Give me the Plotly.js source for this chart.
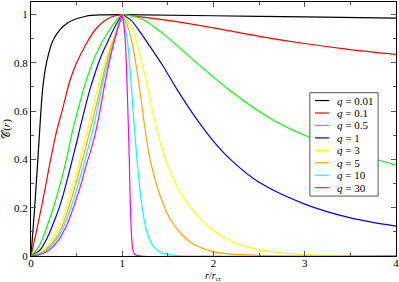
<!DOCTYPE html>
<html><head><meta charset="utf-8">
<script src="https://cdn.plot.ly/plotly-3.0.1.min.js"></script>
<style>html,body{margin:0;padding:0;background:#fff}#chart{width:399px;height:282px}</style>
</head><body><div id="chart"></div>
<script>
// q values and legend labels
const qLabels = ["0.01", "0.1", "0.5", "1", "3", "5", "10", "30"];
const colors = ["#000000", "#ff0000", "#00ff00", "#0000ff", "#ffff00", "#ffa500", "#00ffff", "#ff00ff"];

// q = 0.01
const rBlack = [0, 0.02, 0.04, 0.07, 0.1, 0.13, 0.17, 0.25, 0.4, 0.6, 0.8, 1, 2, 3, 4];
const cBlack = [0, 0.1, 0.2, 0.37, 0.55, 0.7, 0.8, 0.9, 0.965, 0.993, 0.999, 1, 0.995, 0.99, 0.985];
// q = 0.1
const rRed = [0, 0.05, 0.1, 0.15, 0.2, 0.27, 0.34, 0.43, 0.5, 0.6, 0.7, 0.8, 0.9, 1, 1.5, 2, 2.5, 3, 3.5, 4];
const cRed = [0, 0.085, 0.175, 0.27, 0.37, 0.5, 0.6, 0.73, 0.8, 0.875, 0.935, 0.972, 0.993, 1, 0.976, 0.945, 0.91, 0.88, 0.855, 0.835];
// q = 0.5
const rGreen = [0, 0.05, 0.1, 0.15, 0.2, 0.25, 0.3, 0.35, 0.4, 0.45, 0.5, 0.55, 0.6, 0.65, 0.7, 0.75, 0.8, 0.85, 0.9, 0.95, 1, 1.2, 1.45, 1.8, 2.2, 2.6, 3, 3.5, 4];
const cGreen = [0, 0.02, 0.05, 0.095, 0.15, 0.205, 0.27, 0.34, 0.42, 0.51, 0.585, 0.655, 0.72, 0.775, 0.825, 0.865, 0.9, 0.93, 0.958, 0.982, 1, 0.985, 0.92, 0.805, 0.68, 0.575, 0.5, 0.432, 0.377];
// q = 1
const rBlue = [0, 0.1, 0.15, 0.2, 0.25, 0.3, 0.35, 0.4, 0.45, 0.5, 0.55, 0.6, 0.65, 0.7, 0.75, 0.8, 0.85, 0.9, 0.95, 1, 1.1, 1.2, 1.3, 1.45, 1.6, 1.8, 2, 2.2, 2.5, 3, 3.5, 4];
const cBlue = [0, 0.025, 0.055, 0.093, 0.14, 0.19, 0.25, 0.32, 0.395, 0.47, 0.55, 0.625, 0.695, 0.755, 0.81, 0.855, 0.895, 0.935, 0.97, 1, 0.975, 0.925, 0.87, 0.785, 0.69, 0.575, 0.475, 0.395, 0.305, 0.215, 0.158, 0.124];
// q = 3
const rYellow = [0, 0.1, 0.15, 0.2, 0.25, 0.3, 0.35, 0.4, 0.45, 0.5, 0.55, 0.6, 0.65, 0.7, 0.75, 0.8, 0.85, 0.9, 0.95, 1, 1.1, 1.16, 1.25, 1.32, 1.38, 1.47, 1.56, 1.65, 1.84, 2, 2.2, 2.4, 2.6, 3, 3.5, 4];
const cYellow = [0, 0.015, 0.03, 0.05, 0.078, 0.115, 0.155, 0.215, 0.28, 0.345, 0.42, 0.495, 0.57, 0.65, 0.725, 0.79, 0.85, 0.9, 0.95, 1, 0.95, 0.88, 0.745, 0.625, 0.52, 0.405, 0.32, 0.255, 0.16, 0.105, 0.06, 0.035, 0.02, 0.006, 0.002, 0];
// q = 5
const rOrange = [0, 0.1, 0.2, 0.3, 0.35, 0.4, 0.45, 0.5, 0.55, 0.6, 0.65, 0.7, 0.75, 0.8, 0.85, 0.9, 0.95, 1, 1.06, 1.11, 1.17, 1.215, 1.25, 1.3, 1.38, 1.45, 1.53, 1.65, 1.77, 2, 2.2, 2.5, 3, 4];
const cOrange = [0, 0.01, 0.04, 0.09, 0.13, 0.185, 0.245, 0.31, 0.38, 0.45, 0.525, 0.6, 0.68, 0.76, 0.83, 0.89, 0.947, 1, 0.95, 0.88, 0.745, 0.625, 0.525, 0.41, 0.29, 0.215, 0.15, 0.09, 0.052, 0.018, 0.008, 0.003, 0, 0];
// q = 10
const rCyan = [0, 0.1, 0.2, 0.3, 0.35, 0.4, 0.45, 0.5, 0.55, 0.6, 0.65, 0.7, 0.75, 0.8, 0.85, 0.9, 0.95, 1, 1.03, 1.06, 1.09, 1.115, 1.14, 1.165, 1.2, 1.25, 1.3, 1.35, 1.4, 1.47, 1.6, 2, 4];
const cCyan = [0, 0.008, 0.033, 0.08, 0.115, 0.16, 0.215, 0.275, 0.34, 0.41, 0.48, 0.56, 0.65, 0.74, 0.81, 0.875, 0.94, 1, 0.95, 0.88, 0.75, 0.62, 0.5, 0.385, 0.255, 0.13, 0.068, 0.037, 0.02, 0.009, 0.002, 0, 0];
// q = 30
const rMagenta = [0, 0.1, 0.2, 0.3, 0.35, 0.4, 0.45, 0.5, 0.55, 0.6, 0.65, 0.7, 0.75, 0.8, 0.85, 0.9, 0.95, 1, 1.02, 1.035, 1.05, 1.06, 1.07, 1.078, 1.086, 1.095, 1.105, 1.12, 1.14, 1.2, 4];
const cMagenta = [0, 0.006, 0.025, 0.065, 0.097, 0.135, 0.185, 0.24, 0.3, 0.37, 0.43, 0.5, 0.59, 0.695, 0.79, 0.87, 0.94, 1, 0.95, 0.88, 0.74, 0.62, 0.5, 0.38, 0.25, 0.14, 0.066, 0.02, 0.006, 0, 0];

const xs = [rBlack, rRed, rGreen, rBlue, rYellow, rOrange, rCyan, rMagenta];
const ys = [cBlack, cRed, cGreen, cBlue, cYellow, cOrange, cCyan, cMagenta];

const serif = '"Liberation Serif", "Times New Roman", serif';
const traces = [];
xs.forEach((x, i) => {
  const y = ys[i];
  const k = x.indexOf(1); // peak at r = r_cr, keep the cusp sharp
  const parts = [[x.slice(0, k + 1), y.slice(0, k + 1)], [x.slice(k), y.slice(k)]];
  parts.forEach(p => traces.push({
    x: p[0], y: p[1], type: "scatter", mode: "lines", showlegend: false,
    name: "q = " + qLabels[i],
    line: {color: colors[i], width: 1.2, shape: "spline", smoothing: 1}
  }));
});

// hand-built legend box (paper coordinates of the plot area)
const legX0 = 0.764, legX1 = 0.951, legY1 = 0.643, legY0 = 0.236;
const rowTop = 0.612, rowStep = 0.049;
const shapes = [{type: "rect", xref: "paper", yref: "paper", x0: legX0, x1: legX1, y0: legY0, y1: legY1,
  line: {color: "#555", width: 1}, fillcolor: "#fff", layer: "above"}];
const annotations = [];
qLabels.forEach((q, i) => {
  const yy = rowTop - i * rowStep;
  shapes.push({type: "line", xref: "paper", yref: "paper", x0: 0.778, x1: 0.817, y0: yy, y1: yy,
    line: {color: colors[i], width: 1.2}, layer: "above"});
  annotations.push({xref: "paper", yref: "paper", x: 0.834, y: yy, xanchor: "left", yanchor: "middle",
    text: "<i>q</i> = " + q, showarrow: false, font: {family: serif, size: 11, color: "#000"}});
});
// x-axis title, placed below the tick labels
annotations.push({xref: "paper", yref: "paper", x: 0.5, y: -0.079, xanchor: "center", yanchor: "middle",
  text: "<i>r</i>/<i>r</i><sub>cr</sub>", showarrow: false, font: {family: serif, size: 10, color: "#000"}});

const axisCommon = {
  showgrid: false, zeroline: false, showline: true, linecolor: "#000", linewidth: 1,
  mirror: "allticks", ticks: "inside", ticklen: 5, tickcolor: "#555", tickwidth: 1,
  tickfont: {family: serif, size: 11, color: "#000"}, ticklabeloverflow: "allow"
};

const layout = {
  width: 399, height: 282,
  margin: {l: 31, r: 3, t: 2, b: 26},
  paper_bgcolor: "#fff", plot_bgcolor: "#fff",
  showlegend: false,
  shapes: shapes, annotations: annotations,
  xaxis: Object.assign({}, axisCommon, {
    range: [0, 4], tickvals: [0, 1, 2, 3, 4], automargin: false, ticklabelstandoff: -3,
    minor: {dtick: 0.5, ticks: "inside", ticklen: 3, tickcolor: "#555", showgrid: false}
  }),
  yaxis: Object.assign({}, axisCommon, {
    range: [0, 1.052], tickvals: [0, 0.2, 0.4, 0.6, 0.8, 1], automargin: false,
    minor: {dtick: 0.1, ticks: "inside", ticklen: 3, tickcolor: "#555", showgrid: false},
    title: {text: "𝒞(<i>r</i>)", font: {family: serif, size: 11, color: "#000"}, standoff: 2}
  })
};

Plotly.newPlot("chart", traces, layout, {displayModeBar: false, staticPlot: true});
</script></body></html>
